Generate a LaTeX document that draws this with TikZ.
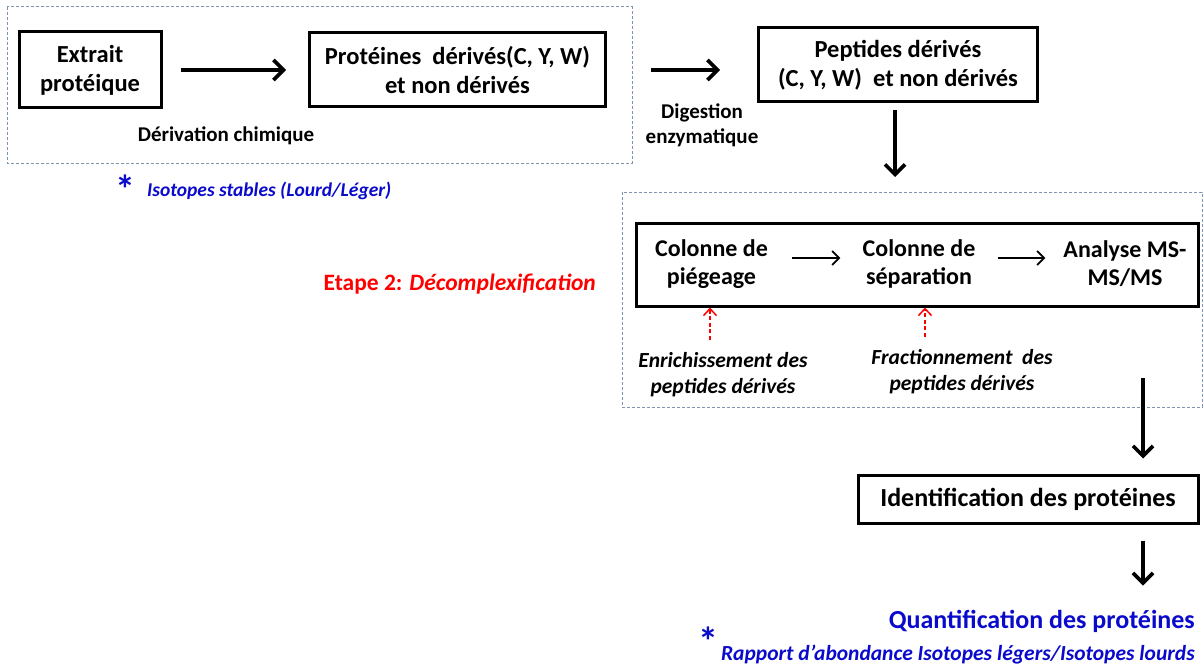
\documentclass[tikz,border=0pt]{standalone}
\usepackage{fontspec}
\setmainfont{Carlito}
\usetikzlibrary{arrows.meta}
\definecolor{dashc}{HTML}{7F93B3}
\definecolor{qblue}{HTML}{0A0ACC}
\definecolor{ered}{HTML}{FF0000}
\newcommand\myfs[2]{\fontsize{#1}{#2}\selectfont\bfseries}
\begin{document}
\begin{tikzpicture}[x=1pt,y=-1pt,
  box/.style={draw, line width=3pt, align=center, inner sep=0pt, font=\myfs{24.5}{29}},
  txt/.style={align=center, inner sep=0pt, font=\myfs{24}{28}},
  lbl/.style={align=center, inner sep=0pt, font=\myfs{21}{25}},
  capt/.style={align=center, inner sep=0pt, font=\myfs{21.5}{26}\itshape},
  dframe/.style={draw=dashc, line width=1pt, dash pattern=on 3pt off 2pt},
  bigarrow/.style={line width=3.6pt, -{Straight Barb[length=10pt,width=20pt]}},
  thinarrow/.style={line width=1.8pt, -{Straight Barb[length=7pt,width=14pt]}},
  redarrow/.style={draw=ered, line width=1.5pt, dash pattern=on 4pt off 2.5pt, -{Straight Barb[length=7pt,width=13pt]}},
  astk/.style={inner sep=0pt, text=qblue, font=\myfs{40}{40}}
]
\useasboundingbox (0,0) rectangle (1204,666);

% frames
\draw[dframe] (7,7) rectangle (632,163);
\draw[dframe] (622,192) rectangle (1202,407);

% top row
\node[box, minimum width=142pt, minimum height=76pt] (ext) at (90,70) {Extrait\\protéique};
\node[box, minimum width=296pt, minimum height=74pt] (prot) at (457.5,70) {Protéines\ \ dérivés(C, Y, W)\\et non dérivés};
\node[box, minimum width=279pt, minimum height=74pt] (pep) at (898,65) {Peptides dérivés\\(C, Y, W)\ \ et non dérivés};

\draw[bigarrow, shorten <=18pt, shorten >=22pt] (ext) -- (prot);
\draw[bigarrow, shorten <=44pt, shorten >=37pt] (prot.east) -- (prot.east -| pep.west);

\node[lbl, anchor=base] (deriv) at (226,142) {Dérivation chimique};
\node[lbl] (dig) at (702,125) {Digestion\\enzymatique};

\node[astk, anchor=base] (s1) at (125,203) {*};
\node[inner sep=0pt, anchor=base west, text=qblue, font=\myfs{19.5}{22}\itshape] (iso) at (147,196) {Isotopes stables (Lourd/Léger)};

% down arrow from peptides
\coordinate (d1) at (895,177);
\draw[bigarrow, shorten <=7pt] (pep.south -| d1) -- (d1);

% stage 2
\node[draw, line width=3pt, inner sep=0pt, minimum width=562pt, minimum height=83pt] (col) at (917,264.5) {};
\node[txt] (piege) at (711.5,264) {Colonne de\\piégeage};
\node[txt] (sep) at (919,264) {Colonne de\\séparation};
\node[txt] (ms) at (1125,264) {Analyse MS-\\MS/MS};
\draw[thinarrow, shorten <=24pt, shorten >=22pt] ([yshift=6pt]piege.east) -- ([yshift=6pt]piege.east -| sep.west);
\draw[thinarrow, shorten <=22pt, shorten >=18pt] ([yshift=6pt]sep.east) -- ([yshift=6pt]sep.east -| ms.west);

\node[inner sep=0pt, anchor=base east, text=ered, font=\myfs{23.5}{28}] (etape) at (596,290) {Etape 2: \textit{Décomplexification}};

\node[capt] (enrich) at (723,375) {Enrichissement des\\peptides dérivés};
\node[capt] (frac) at (962,372) {Fractionnement\ \ des\\peptides dérivés};
\draw[redarrow, shorten <=13pt] ([xshift=-13pt]enrich.north) -- ([xshift=-13pt]enrich.north |- col.south);
\draw[redarrow, shorten <=13pt] ([xshift=-37pt]frac.north) -- ([xshift=-37pt]frac.north |- col.south);

% identification
\node[box, font=\myfs{26}{30}, minimum width=340pt, minimum height=48pt] (ident) at (1028,499) {Identification des protéines};
\coordinate (d3) at (1143,378);
\draw[bigarrow, shorten >=15pt] (d3) -- (d3 |- ident.north);

\node[inner sep=0pt, anchor=base east, text=qblue, font=\myfs{26}{30}] (quant) at (1195,628) {Quantification des protéines};
\draw[bigarrow, shorten <=16pt, shorten >=24pt] (ident.south -| d3) -- (quant.north -| d3);

\node[astk, anchor=base] (s2) at (708,655) {*};
\node[inner sep=0pt, anchor=base east, text=qblue, font=\myfs{21.5}{24}\itshape] (rapport) at (1195,660) {Rapport d’abondance Isotopes légers/Isotopes lourds};
\end{tikzpicture}
\end{document}
